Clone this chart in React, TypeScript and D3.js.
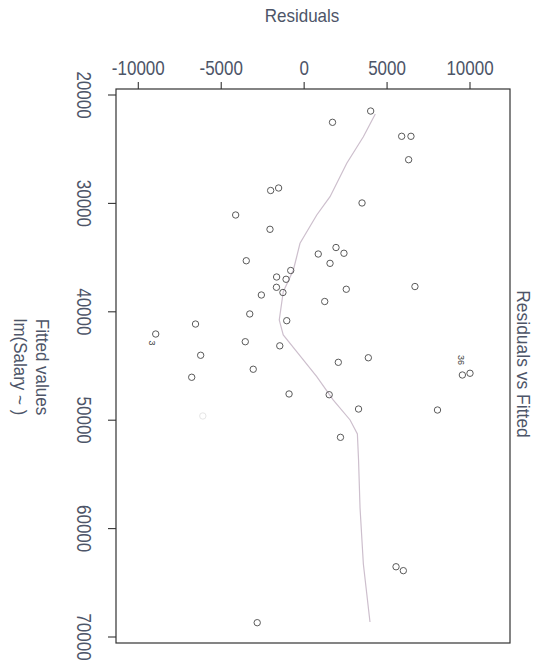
import React from "react";
import * as d3 from "d3";

const residualTicks = [-10000, -5000, 0, 5000, 10000];
const fittedTicks = [20000, 30000, 40000, 50000, 60000, 70000];

const fittedValues = [21480, 22520, 23810, 23810, 25970, 28810, 28580, 29960, 31070, 32390, 34070, 34600, 34670, 35530, 35290, 36190, 36790, 37000, 37740, 38220, 38450, 37920, 37670, 39050, 40200, 41130, 42050, 40820, 42760, 43140, 44010, 45300, 46040, 47580, 44660, 44240, 47650, 48970, 49060, 51580, 45830, 45670, 68680, 63520, 63880];
const residualValues = [4010, 1710, 5880, 6440, 6300, -2020, -1540, 3490, -4130, -2060, 1920, 2400, 850, 1560, -3490, -810, -1660, -1090, -1670, -1280, -2580, 2540, 6680, 1240, -3280, -6550, -8950, -1050, -3550, -1470, -6240, -3070, -6780, -910, 2060, 3870, 1510, 3280, 8040, 2190, 9540, 10000, -2830, 5540, 5980];

const fadedFitted = [49610];
const fadedResiduals = [-6110];

const smoothFitted = [21750, 23850, 26300, 29380, 31070, 33680, 34920, 36140, 38150, 40760, 42140, 43680, 45990, 48140, 49980, 51270, 53670, 58100, 63270, 68620];
const smoothResiduals = [4290, 3570, 2570, 1560, 760, -250, -450, -650, -1260, -1500, -1260, -450, 760, 1760, 2770, 3210, 3280, 3370, 3570, 3970];

const idLabels = ["3", "36"];
const idFitted = [42050, 45830];
const idResiduals = [-8950, 9540];

const title = "Residuals vs Fitted";
const residualTitle = "Residuals";
const fittedTitle = "Fitted values";
const modelCall = "lm(Salary ~ )";

export default function App() {
  const W = 542, H = 667;
  const frame = { left: 116, right: 510, top: 89, bottom: 643 };
  const x = d3.scaleLinear().domain([-10000, 10000]).range([138.3, 470]);
  const y = d3.scaleLinear().domain([20000, 70000]).range([95, 637]);
  const textColor = "#4d5568";
  const font = "'Liberation Sans', Arial, Helvetica, sans-serif";

  const line = d3
    .line<number>()
    .x((_, i) => x(smoothResiduals[i]))
    .y((f) => y(f));

  const idOffsets = [[-4, 9], [-1, -15]];

  return (
    <svg width={W} height={H} style={{ position: "absolute", left: 0, top: 0, background: "#fff" }} fontFamily={font}>
      <rect x={0} y={0} width={W} height={H} fill="#fff" />
      <rect
        x={frame.left}
        y={frame.top}
        width={frame.right - frame.left}
        height={frame.bottom - frame.top}
        fill="none"
        stroke="#333"
        strokeWidth={1.2}
      />
      {residualTicks.map((t) => (
        <g key={"rt" + t}>
          <line x1={x(t)} x2={x(t)} y1={frame.top} y2={frame.top - 7} stroke="#333" strokeWidth={1.1} />
          <text
            transform={`translate(${x(t)},75) scale(1,1.15)`}
            textAnchor="middle"
            fontSize={17}
            fill={textColor}
          >
            {t}
          </text>
        </g>
      ))}
      <text transform="translate(302,22) scale(1,1.1)" textAnchor="middle" fontSize={17} fill={textColor}>
        {residualTitle}
      </text>
      {fittedTicks.map((t) => (
        <g key={"ft" + t}>
          <line x1={frame.left} x2={frame.left - 8} y1={y(t)} y2={y(t)} stroke="#333" strokeWidth={1.1} />
          <text
            transform={`translate(${84},${y(t)}) rotate(90) scale(1,1.15)`}
            textAnchor="middle"
            dominantBaseline="central"
            fontSize={17}
            fill={textColor}
          >
            {t}
          </text>
        </g>
      ))}
      <text
        transform={`translate(42,367) rotate(90) scale(1,1.1)`}
        textAnchor="middle"
        dominantBaseline="central"
        fontSize={17}
        fill={textColor}
      >
        {fittedTitle}
      </text>
      <text
        transform={`translate(20,367) rotate(90) scale(1,1.1)`}
        textAnchor="middle"
        dominantBaseline="central"
        fontSize={17}
        fill={textColor}
      >
        {modelCall}
      </text>
      <text
        transform={`translate(524,364) rotate(90) scale(1,1.1)`}
        textAnchor="middle"
        dominantBaseline="central"
        fontSize={17.5}
        fill={textColor}
      >
        {title}
      </text>
      <path d={line(smoothFitted) || ""} fill="none" stroke="#cdbfcd" strokeWidth={1.2} />
      {fittedValues.map((f, i) => (
        <circle key={"p" + i} cx={x(residualValues[i])} cy={y(f)} r={3.2} fill="none" stroke="#5a5a5a" strokeWidth={1} />
      ))}
      {fadedFitted.map((f, i) => (
        <circle key={"fp" + i} cx={x(fadedResiduals[i])} cy={y(f)} r={3.2} fill="none" stroke="#e6e6e6" strokeWidth={1} />
      ))}
      {idLabels.map((lab, i) => (
        <text
          key={"id" + i}
          transform={`translate(${x(idResiduals[i]) + idOffsets[i][0]},${y(idFitted[i]) + idOffsets[i][1]}) rotate(90)`}
          textAnchor="middle"
          dominantBaseline="central"
          fontSize={9}
          fill="#444"
        >
          {lab}
        </text>
      ))}
    </svg>
  );
}
